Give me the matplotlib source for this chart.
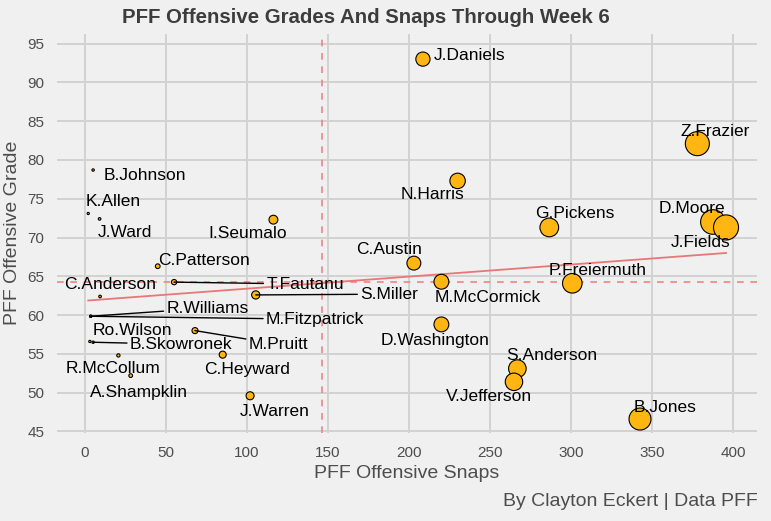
import matplotlib

matplotlib.use("Agg")
import matplotlib.pyplot as plt  # noqa: E402

plt.rcParams["font.family"] = ["Liberation Sans", "DejaVu Sans"]

players = [
    "J.Daniels", "Z.Frazier", "D.Moore", "J.Fields", "N.Harris", "G.Pickens",
    "C.Austin", "P.Freiermuth", "M.McCormick", "S.Miller", "D.Washington",
    "S.Anderson", "V.Jefferson", "B.Jones", "J.Warren", "B.Johnson", "K.Allen",
    "J.Ward", "I.Seumalo", "C.Patterson", "C.Anderson", "T.Fautanu",
    "R.Williams", "M.Fitzpatrick", "Ro.Wilson", "B.Skowronek", "M.Pruitt",
    "C.Heyward", "R.McCollum", "A.Shampklin",
]
snaps = [
    208.6, 378, 387.6, 395.7, 230, 286.6,
    203, 300.8, 220, 105.4, 220,
    266.9, 264.8, 342.6, 101.9, 5, 2,
    9, 116.3, 44.9, 9.3, 55,
    3.5, 3.5, 3, 5, 67.9,
    85, 20.6, 28.2,
]
grades = [
    93.0, 82.1, 72.0, 71.3, 77.3, 71.3,
    66.7, 64.1, 64.3, 62.6, 58.8,
    53.1, 51.4, 46.6, 49.6, 78.7, 73.1,
    72.4, 72.3, 66.3, 62.4, 64.25,
    59.85, 59.85, 56.6, 56.5, 58.0,
    54.9, 54.8, 52.2,
]

snap_avg = 146.5
grade_avg = 64.3
trend_intercept = 61.85
trend_slope = 0.01556

# label placement (data coords) and whether a leader segment is drawn
label_xy = [
    (237.7, 93.5), (388.9, 83.65), (374.7, 73.8), (380.2, 69.3), (214.5, 75.5), (302.5, 73.05),
    (187.7, 68.4), (316.7, 65.8), (248.5, 62.3), (187.7, 62.7), (216, 56.75),
    (288.3, 54.8), (249.4, 49.5), (358, 48.1), (117.3, 47.6), (36.7, 78.0), (17.3, 74.7),
    (24.4, 70.6), (100.6, 70.46), (73.5, 67.1), (15.7, 64.0), (135.8, 64.0),
    (75.6, 60.9), (142, 59.46), (29, 58.04), (59.3, 56.23), (119.4, 56.23),
    (100.3, 53.0), (17, 53.1), (33.3, 50.0),
]
leader = {"S.Miller", "T.Fautanu", "R.Williams", "M.Fitzpatrick", "B.Skowronek", "M.Pruitt"}

BG = "#F0F0F0"
GRID = "#D2D2D2"
REF = "#EE8585"

fig = plt.figure(figsize=(7.71, 5.21), dpi=100, facecolor=BG)
ax = fig.add_axes([0.0739, 0.1689, 0.9079, 0.7668], facecolor=BG)

ax.set_xlim(-17.3, 414.8)
ax.set_ylim(44.8, 96.3)
ax.set_xticks(range(0, 401, 50))
ax.set_yticks(range(45, 96, 5))
ax.grid(True, color=GRID, lw=1.4)
ax.set_axisbelow(True)
for s in ax.spines.values():
    s.set_visible(False)
ax.tick_params(length=0, labelsize=11, labelcolor="#4D4D4D", pad=9)

ax.axvline(snap_avg, color=REF, lw=1.2, ls=(0, (4, 4)), zorder=1)
ax.axhline(grade_avg, color=REF, lw=1.2, ls=(0, (4, 4)), zorder=1)
x0, x1 = min(snaps), max(snaps)
ax.plot([x0, x1], [trend_intercept + trend_slope * x0, trend_intercept + trend_slope * x1],
        color="#E87777", lw=1.3, zorder=1.5)

sizes = [(2 * (1.05 + 0.029 * v) * 0.72) ** 2 for v in snaps]
ax.scatter(snaps, grades, s=sizes, c="#FFB612", edgecolors="black", linewidths=0.8, zorder=3)

for name, x, y, (lx, ly) in zip(players, snaps, grades, label_xy):
    if name in leader:
        ax.annotate(name, xy=(x, y), xytext=(lx, ly), ha="center", va="center",
                    fontsize=12.5, color="black", zorder=4,
                    arrowprops=dict(arrowstyle="-", color="black", lw=1.0,
                                    shrinkA=0, shrinkB=0))
    else:
        ax.text(lx, ly, name, ha="center", va="center", fontsize=12.5,
                color="black", zorder=4)

fig.text(0.475, 0.967, "PFF Offensive Grades And Snaps Through Week 6", ha="center",
         va="center", fontsize=14.7, fontweight="bold", color="#3C3C3C")
fig.text(0.528, 0.092, "PFF Offensive Snaps", ha="center", va="center",
         fontsize=14, color="#4D4D4D")
fig.text(0.016, 0.553, "PFF Offensive Grade", ha="center", va="center",
         rotation=90, fontsize=14, color="#4D4D4D")
fig.text(0.983, 0.037, "By Clayton Eckert | Data PFF", ha="right", va="center",
         fontsize=14, color="#4D4D4D")

fig.savefig("out.png", dpi=100, facecolor=BG)
